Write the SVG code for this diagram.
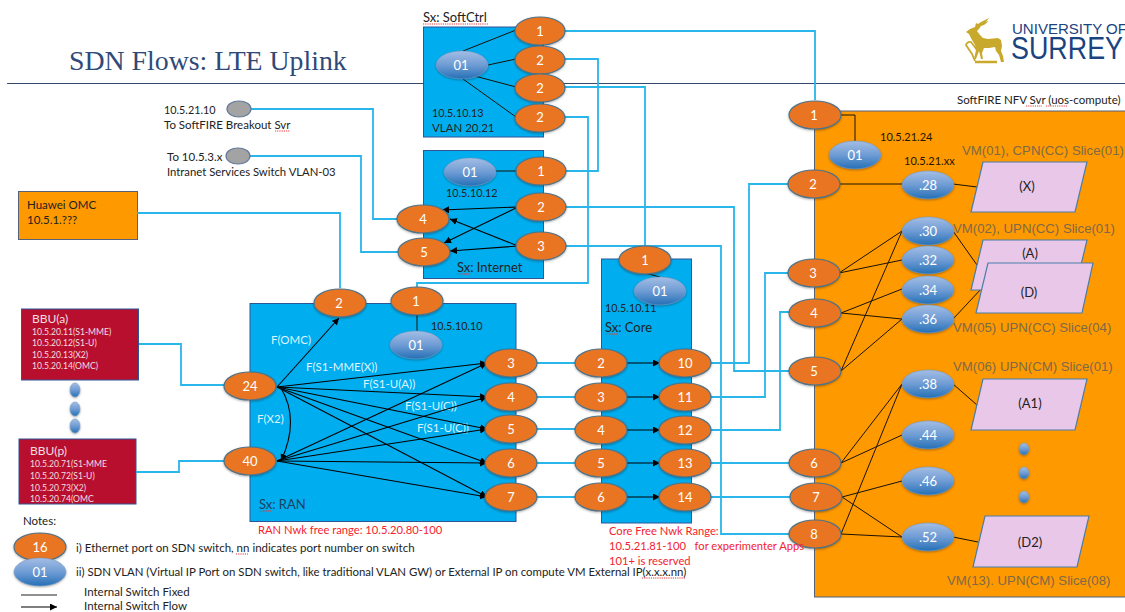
<svg xmlns="http://www.w3.org/2000/svg" width="1125" height="612" viewBox="0 0 1125 612">
<style>
text{font-family:Lato,"Liberation Sans",sans-serif;font-size:11.500px;fill:#222}
.box{fill:#00aeef;stroke:#2f5597;stroke-width:1}
.p{fill:#e97522;stroke:#4f7389;stroke-width:1.2;filter:drop-shadow(0 1px 1px rgba(0,0,0,.3))}
.v{fill:url(#bl);stroke:#7aa0c8;stroke-width:.6;filter:drop-shadow(0 1px 1px rgba(0,0,0,.3))}
.g{fill:#a3a3a3;stroke:#62799a;stroke-width:1.2}
.n{font-size:13px;fill:#fff;text-anchor:middle}
.b{fill:none;stroke:#29b6ea;stroke-width:1.8}
.k{fill:none;stroke:#1a1205;stroke-width:1}
.a{fill:none;stroke:#000;stroke-width:1.1;marker-end:url(#ah)}
.f{font-size:11.500px;fill:#dff4ff}
.r{font-size:11.200px;fill:#f5222d}
.ip{font-size:10.800px}
.sx{font-size:13px}
.w{font-size:8.600px;fill:#f0dfe0}
.bh{font-size:12px;fill:#f0dfe0}
.vm{font-family:"Liberation Sans",sans-serif;font-size:13.200px;fill:#7d6a48}
.para{fill:#e8c7e8;stroke:#4a7ea8;stroke-width:1.2}
.pl{font-size:13px;text-anchor:middle}
.sq{fill:none;stroke:#e33;stroke-width:1;stroke-dasharray:1.2 1}
.lg{font-family:"Liberation Sans",sans-serif;fill:#1a4480}
</style>
<defs>
<linearGradient id="bl" x1="0" y1="0" x2="0" y2="1"><stop offset="0" stop-color="#a3bde4"/><stop offset=".5" stop-color="#6f9cd4"/><stop offset="1" stop-color="#2470b6"/></linearGradient>
<marker id="ah" markerWidth="8" markerHeight="8" refX="7" refY="3.500" orient="auto" markerUnits="userSpaceOnUse"><path d="M0 0L7 3.500L0 7z" fill="#000"/></marker>
</defs>
<rect width="1125" height="612" fill="#fff"/>
<text x="69" y="70" style="font-family:'Liberation Serif',serif;font-size:27.800px;fill:#2f4a78">SDN Flows: LTE Uplink</text>
<path d="M7 83.500H1125" stroke="#33486a" stroke-width="1"/>
<g id="logo">
<path d="M970 29l5-2 1-4 2 1 3-2 6-3 2-1-3 4 3-1-5 4-3 1-2 3-2 2 3 4 3 3 5 1 10-1 3 2 1 6-1 5 2 5 1 6h-3l-2-7-3-4-1-4-6 1-5 0-2 5 1 6-2 0-2-8-3 8h-2l2-9-1-5-3-5-3-6-3-2z" fill="#c8a92c"/>
<path d="M975 62h22" stroke="#c8a92c" stroke-width="2.500" fill="none"/>
<path d="M977 50l-6-8a4 4 0 0 0-5 3l6 9 3 7" stroke="#c8a92c" stroke-width="1.800" fill="none"/>
<text class="lg" x="1012" y="34" textLength="115" lengthAdjust="spacingAndGlyphs" style="font-size:14px">UNIVERSITY OF</text>
<text class="lg" x="1011" y="59" textLength="112" lengthAdjust="spacingAndGlyphs" style="font-size:32px">SURREY</text>
</g>
<g id="softctrl"><rect class="box" x="423.500" y="27" width="120" height="110"/><text class="sx" x="423" y="22">Sx: SoftCtrl</text><text class="ip" x="432" y="117">10.5.10.13</text><text x="432" y="132">VLAN 20,21</text><path class="sq" d="M423 24H489"/></g>
<g id="internet"><rect class="box" x="423.500" y="150.500" width="120" height="128"/><text class="ip" x="446" y="197">10.5.10.12</text><text class="sx" x="457" y="272">Sx: Internet</text><path class="sq" d="M457 274H470"/></g>
<g id="ran"><rect class="box" x="250" y="303.500" width="266" height="218"/><text class="ip" x="431" y="330">10.5.10.10</text><text class="sx" x="259" y="509" style="fill:#1f3f60">Sx: RAN</text><path class="sq" d="M259 511H272"/>
<text class="f" x="271" y="344">F(OMC)</text><text class="f" x="306" y="371">F(S1-MME(X))</text><text class="f" x="363" y="388">F(S1-U(A))</text><text class="f" x="405" y="410">F(S1-U(C))</text><text class="f" x="417" y="432">F(S1-U(C))</text><text class="f" x="257" y="423">F(X2)</text></g>
<g id="core"><rect class="box" x="601.500" y="259" width="90" height="264"/><text class="ip" x="605" y="312">10.5.10.11</text><text class="sx" x="605" y="332">Sx: Core</text><path class="sq" d="M605 334H618"/></g>
<g id="nfv"><rect x="814.500" y="111" width="320" height="486" fill="#ff9900" stroke="#55617a"/><text x="957" y="104" style="font-size:11.500px">SoftFIRE NFV Svr (uos-compute)</text><path class="sq" d="M1026 106H1042M1046 106H1068"/>
<text x="880" y="141" style="font-size:11px;fill:#221500">10.5.21.24</text><text x="904" y="165" style="font-size:11px;fill:#221500">10.5.21.xx</text>
<text class="vm" x="962" y="155">VM(01), CPN(CC) Slice(01)</text><text class="vm" x="953" y="233">VM(02), UPN(CC) Slice(01)</text><text class="vm" x="953" y="332">VM(05) UPN(CC) Slice(04)</text><text class="vm" x="953" y="371">VM(06) UPN(CM) Slice(01)</text><text class="vm" x="947" y="585">VM(13). UPN(CM) Slice(08)</text></g>
<g id="huawei"><rect x="18.500" y="191.500" width="119" height="48" fill="#ff9900" stroke="#55617a"/><text x="27" y="209">Huawei OMC</text><text x="27" y="224">10.5.1.???</text></g>
<g id="bbua"><rect x="21.500" y="309" width="117" height="71" fill="#b90f2e" stroke="#2f5597"/><text class="bh" x="32" y="323">BBU(a)</text><text class="w" x="32" y="335">10.5.20.11(S1-MME)</text><text class="w" x="32" y="346">10.5.20.12(S1-U)</text><text class="w" x="32" y="358">10.5.20.13(X2)</text><text class="w" x="32" y="369">10.5.20.14(OMC)</text></g>
<g id="bbup"><rect x="19" y="439" width="117" height="65" fill="#b90f2e" stroke="#2f5597"/><text class="bh" x="30" y="455">BBU(p)</text><text class="w" x="30" y="467">10.5.20.71(S1-MME</text><text class="w" x="30" y="479">10.5.20.72(S1-U)</text><text class="w" x="30" y="491">10.5.20.73(X2)</text><text class="w" x="30" y="502">10.5.20.74(OMC</text></g>
<g id="bbu-dots"><ellipse class="v" cx="75" cy="390" rx="5" ry="7"/><ellipse class="v" cx="75" cy="409" rx="5" ry="7"/><ellipse class="v" cx="75" cy="426" rx="5" ry="7"/></g>
<g id="connectors">
<path class="b" d="M137 213H340V288"/>
<path class="b" d="M251 109H373V219H400"/>
<path class="b" d="M250 156H361V252H400"/>
<path class="b" d="M563 31H815V100"/>
<path class="b" d="M563 59H598V171H565"/>
<path class="b" d="M563 87H645V246"/>
<path class="b" d="M563 117H588V283H417V288"/>
<path class="b" d="M565 207H734V371H790"/>
<path class="b" d="M565 246H721V534H790"/>
<path class="b" d="M709 363H749V184H789"/>
<path class="b" d="M709 397H765V273H789"/>
<path class="b" d="M709 430H780V312H790"/>
<path class="b" d="M709 463H790M709 497H792"/>
<path class="b" d="M139 344H181V385H226"/>
<path class="b" d="M136 472H179V461H226"/>
<path class="b" d="M535 363H577M535 397H577M535 429H577M535 463H577M535 497H577"/>
<path class="k" d="M463 51L516 30M488 65L516 59M471 75L516 87M463 79L516 117M495 171H517M417 315V331M645 273L660 277M839 115H855V141M840 184H903M953 184L977 187M839 273L902 231M839 273L902 260M841 313L902 289M841 313L902 319M841 371L902 231M841 371L902 319M953 231L977 265M953 319L982 288M841 463L902 384M841 463L902 435M842 497L902 481M842 497L902 537M841 534L902 384M841 534L902 537M953 384L977 405M953 537L978 542"/>
<path class="a" d="M518 207L442 210"/><path class="a" d="M518 207L444 243"/><path class="a" d="M518 246L450 219"/><path class="a" d="M518 246L450 251"/>
<path class="a" d="M277 387L339 318"/>
<path class="a" d="M277 387L487 363"/><path class="a" d="M277 387L487 397"/><path class="a" d="M277 387L487 429"/><path class="a" d="M277 387L487 463"/><path class="a" d="M277 387L487 497"/>
<path class="a" d="M277 461L487 363"/><path class="a" d="M277 461L487 397"/><path class="a" d="M277 461L487 429"/><path class="a" d="M277 461L487 463"/><path class="a" d="M277 461L487 497"/>
<path class="a" d="M281 388Q300 420 281 461"/>
<path class="a" d="M625 363H660"/><path class="a" d="M625 397H660"/><path class="a" d="M625 430H660"/><path class="a" d="M625 463H660"/><path class="a" d="M625 497H660"/>
</g>
<g id="gw1"><ellipse class="g" cx="239" cy="109" rx="12" ry="8"/><text class="ip" x="164" y="114">10.5.21.10</text><text x="164" y="129">To SoftFIRE Breakout Svr</text><path class="sq" d="M275 131H290"/></g>
<g id="gw2"><ellipse class="g" cx="238" cy="156" rx="12" ry="8"/><text x="167" y="161">To 10.5.3.x</text><text style="font-size:11.300px" x="167" y="176">Intranet Services Switch VLAN-03</text></g>
<g id="sc-v01"><ellipse class="v" cx="462" cy="65" rx="26" ry="14"/><text class="n" x="461" y="70">01</text></g>
<g id="sc-1"><ellipse class="p" cx="540" cy="31" rx="25" ry="14"/><text class="n" x="540" y="36">1</text></g>
<g id="sc-2a"><ellipse class="p" cx="540" cy="60" rx="25" ry="14"/><text class="n" x="540" y="65">2</text></g>
<g id="sc-2b"><ellipse class="p" cx="540" cy="88" rx="25" ry="14"/><text class="n" x="540" y="93">2</text></g>
<g id="sc-2c"><ellipse class="p" cx="540" cy="118" rx="25" ry="14"/><text class="n" x="540" y="122">2</text></g>
<g id="in-v01"><ellipse class="v" cx="470" cy="172" rx="26" ry="14"/><text class="n" x="470" y="177">01</text></g>
<g id="in-1"><ellipse class="p" cx="541" cy="171" rx="25" ry="14"/><text class="n" x="541" y="176">1</text></g>
<g id="in-2"><ellipse class="p" cx="541" cy="207" rx="25" ry="14"/><text class="n" x="541" y="212">2</text></g>
<g id="in-3"><ellipse class="p" cx="541" cy="246" rx="25" ry="14"/><text class="n" x="541" y="251">3</text></g>
<g id="in-4"><ellipse class="p" cx="423" cy="219" rx="26" ry="14"/><text class="n" x="423" y="224">4</text></g>
<g id="in-5"><ellipse class="p" cx="424" cy="252" rx="26" ry="14"/><text class="n" x="424" y="257">5</text></g>
<g id="ran-2"><ellipse class="p" cx="340" cy="303" rx="26" ry="14"/><text class="n" x="339" y="308">2</text></g>
<g id="ran-1"><ellipse class="p" cx="417" cy="301" rx="26" ry="14"/><text class="n" x="416" y="306">1</text></g>
<g id="ran-v01"><ellipse class="v" cx="416" cy="345" rx="26" ry="14"/><text class="n" x="416" y="350">01</text></g>
<g id="ran-24"><ellipse class="p" cx="250" cy="386" rx="26" ry="14"/><text class="n" x="250" y="391">24</text></g>
<g id="ran-40"><ellipse class="p" cx="250" cy="461" rx="26" ry="14"/><text class="n" x="250" y="466">40</text></g>
<g id="ran-3"><ellipse class="p" cx="511" cy="363" rx="26" ry="14"/><text class="n" x="511" y="368">3</text></g>
<g id="ran-4"><ellipse class="p" cx="511" cy="397" rx="26" ry="14"/><text class="n" x="511" y="402">4</text></g>
<g id="ran-5"><ellipse class="p" cx="511" cy="429" rx="26" ry="14"/><text class="n" x="511" y="434">5</text></g>
<g id="ran-6"><ellipse class="p" cx="511" cy="463" rx="26" ry="14"/><text class="n" x="511" y="468">6</text></g>
<g id="ran-7"><ellipse class="p" cx="511" cy="497" rx="26" ry="14"/><text class="n" x="511" y="502">7</text></g>
<g id="co-1"><ellipse class="p" cx="645" cy="260" rx="26" ry="14"/><text class="n" x="645" y="265">1</text></g>
<g id="co-v01"><ellipse class="v" cx="660" cy="291" rx="26" ry="14"/><text class="n" x="660" y="296">01</text></g>
<g id="co-2"><ellipse class="p" cx="601" cy="363" rx="26" ry="14"/><text class="n" x="601" y="368">2</text></g>
<g id="co-3"><ellipse class="p" cx="601" cy="397" rx="26" ry="14"/><text class="n" x="601" y="402">3</text></g>
<g id="co-4"><ellipse class="p" cx="601" cy="430" rx="26" ry="14"/><text class="n" x="601" y="435">4</text></g>
<g id="co-5"><ellipse class="p" cx="601" cy="463" rx="26" ry="14"/><text class="n" x="601" y="468">5</text></g>
<g id="co-6"><ellipse class="p" cx="601" cy="497" rx="26" ry="14"/><text class="n" x="601" y="502">6</text></g>
<g id="co-10"><ellipse class="p" cx="685" cy="363" rx="26" ry="14"/><text class="n" x="685" y="368">10</text></g>
<g id="co-11"><ellipse class="p" cx="685" cy="397" rx="26" ry="14"/><text class="n" x="685" y="402">11</text></g>
<g id="co-12"><ellipse class="p" cx="685" cy="430" rx="26" ry="14"/><text class="n" x="685" y="435">12</text></g>
<g id="co-13"><ellipse class="p" cx="685" cy="463" rx="26" ry="14"/><text class="n" x="685" y="468">13</text></g>
<g id="co-14"><ellipse class="p" cx="685" cy="497" rx="26" ry="14"/><text class="n" x="685" y="502">14</text></g>
<g id="nfv-1"><ellipse class="p" cx="815" cy="115" rx="26" ry="14"/><text class="n" x="814" y="120">1</text></g>
<g id="nfv-2"><ellipse class="p" cx="814" cy="184" rx="26" ry="14"/><text class="n" x="813" y="189">2</text></g>
<g id="nfv-3"><ellipse class="p" cx="814" cy="273" rx="26" ry="14"/><text class="n" x="813" y="278">3</text></g>
<g id="nfv-4"><ellipse class="p" cx="815" cy="313" rx="26" ry="14"/><text class="n" x="814" y="318">4</text></g>
<g id="nfv-5"><ellipse class="p" cx="815" cy="371" rx="26" ry="14"/><text class="n" x="814" y="376">5</text></g>
<g id="nfv-6"><ellipse class="p" cx="815" cy="463" rx="26" ry="14"/><text class="n" x="814" y="468">6</text></g>
<g id="nfv-7"><ellipse class="p" cx="816" cy="497" rx="26" ry="14"/><text class="n" x="816" y="502">7</text></g>
<g id="nfv-8"><ellipse class="p" cx="815" cy="534" rx="26" ry="14"/><text class="n" x="814" y="539">8</text></g>
<g id="nfv-v01"><ellipse class="v" cx="855" cy="155" rx="26" ry="14"/><text class="n" x="855" y="160">01</text></g>
<g id="ip-28"><ellipse class="v" cx="928" cy="185" rx="26" ry="14"/><text class="n" x="928" y="190">.28</text></g>
<g id="ip-30"><ellipse class="v" cx="928" cy="231" rx="26" ry="14"/><text class="n" x="928" y="236">.30</text></g>
<g id="ip-32"><ellipse class="v" cx="928" cy="260" rx="26" ry="14"/><text class="n" x="928" y="265">.32</text></g>
<g id="ip-34"><ellipse class="v" cx="928" cy="290" rx="26" ry="14"/><text class="n" x="928" y="295">.34</text></g>
<g id="ip-36"><ellipse class="v" cx="928" cy="319" rx="26" ry="14"/><text class="n" x="928" y="324">.36</text></g>
<g id="ip-38"><ellipse class="v" cx="928" cy="384" rx="26" ry="14"/><text class="n" x="928" y="389">.38</text></g>
<g id="ip-44"><ellipse class="v" cx="928" cy="435" rx="26" ry="14"/><text class="n" x="928" y="440">.44</text></g>
<g id="ip-46"><ellipse class="v" cx="928" cy="481" rx="26" ry="14"/><text class="n" x="928" y="486">.46</text></g>
<g id="ip-52"><ellipse class="v" cx="928" cy="537" rx="26" ry="14"/><text class="n" x="928" y="542">.52</text></g>
<g id="vm-x"><path class="para" d="M983 162H1087L1075 212H971z"/><text class="pl" x="1027" y="191">(X)</text></g>
<g id="vm-a"><path class="para" d="M983 240H1087L1075 290H971z"/><text class="pl" x="1030" y="258">(A)</text></g>
<g id="vm-d"><path class="para" d="M988 263H1093L1082 313H976z"/><text class="pl" x="1029" y="297">(D)</text></g>
<g id="vm-a1"><path class="para" d="M983 379H1087L1075 430H971z"/><text class="pl" x="1030" y="408">(A1)</text></g>
<g id="vm-d2"><path class="para" d="M985 516H1089L1077 567H973z"/><text class="pl" x="1030" y="547">(D2)</text></g>
<g id="vm-dots"><ellipse class="v" cx="1024" cy="449" rx="5" ry="6"/><ellipse class="v" cx="1024" cy="473" rx="5" ry="6"/><ellipse class="v" cx="1024" cy="497" rx="5" ry="6"/></g>
<g id="red-notes"><text class="r" x="258" y="534">RAN Nwk free range: 10.5.20.80-100</text><text class="r" x="609" y="535">Core Free Nwk Range:</text><text class="r" x="609" y="550" xml:space="preserve">10.5.21.81-100   for experimenter Apps</text><text class="r" x="609" y="565">101+  is reserved</text></g>
<g id="notes"><text x="23" y="525">Notes:</text>
<ellipse class="p" cx="40" cy="547" rx="26" ry="14"/><text class="n" x="40" y="552">16</text>
<ellipse class="v" cx="40" cy="572" rx="26" ry="14"/><text class="n" x="40" y="577">01</text>
<text x="76" y="552">i) Ethernet port on SDN switch, nn indicates port number on switch</text><path class="sq" d="M236 554H248"/>
<text x="76" y="576" style="font-size:11.400px">ii) SDN VLAN (Virtual IP Port on SDN switch, like traditional VLAN GW) or External IP on compute VM External IP(x.x.x.nn)</text><path class="sq" d="M642 578H686"/>
<path d="M21 595H57" stroke="#222" fill="none"/><path class="a" d="M21 607H57"/>
<text x="84" y="596">Internal Switch Fixed</text><text x="84" y="610">Internal Switch Flow</text></g>
</svg>
